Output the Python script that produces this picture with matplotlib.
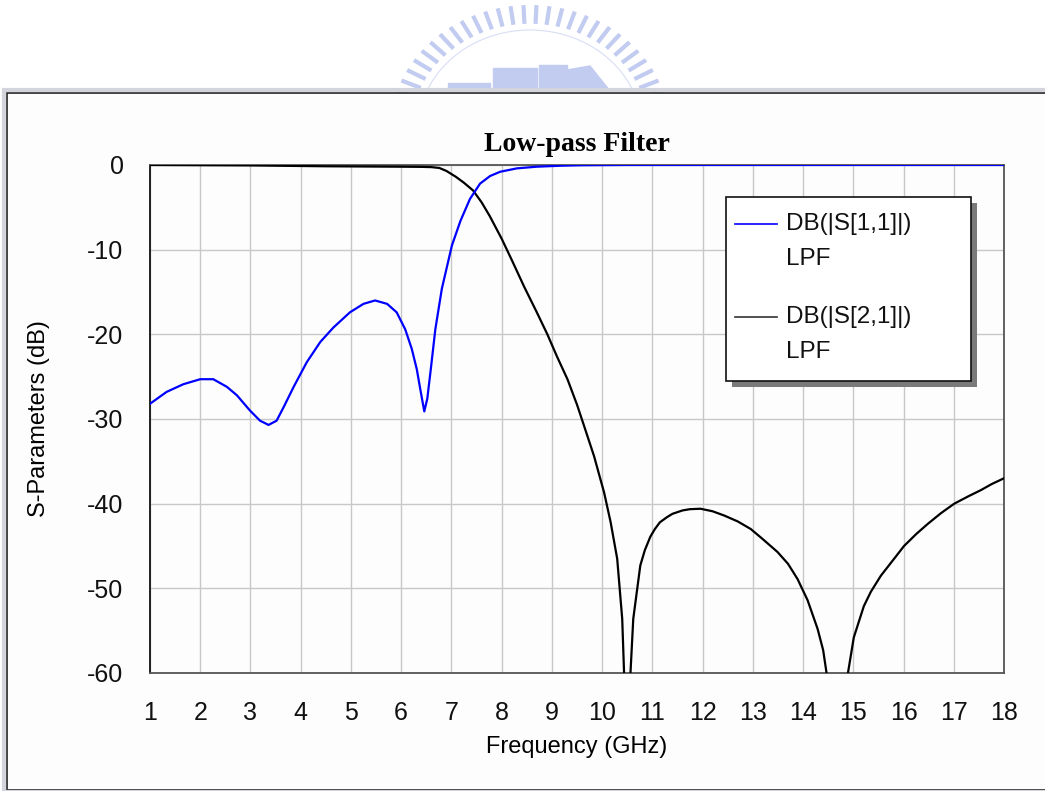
import matplotlib
matplotlib.use("Agg")
import matplotlib.pyplot as plt
import numpy as np
from matplotlib.lines import Line2D
from matplotlib.patches import Rectangle, Polygon, Arc

# --- data ---
s11_freq = [1.0, 1.33, 1.66, 2.0, 2.26, 2.53, 2.73, 2.99, 3.19, 3.36, 3.52, 3.66,
            3.86, 4.12, 4.39, 4.65, 4.98, 5.25, 5.48, 5.72, 5.91, 6.08, 6.21, 6.31,
            6.39, 6.46, 6.52, 6.59, 6.68, 6.81, 7.01, 7.18, 7.37, 7.57, 7.77, 7.97,
            8.3, 8.7, 9.2, 9.6, 10.5, 18.0]
s11_db = [-28.2, -26.8, -25.9, -25.3, -25.3, -26.2, -27.2, -29.0, -30.2, -30.7,
          -30.2, -28.6, -26.2, -23.3, -20.9, -19.2, -17.4, -16.4, -16.0, -16.4,
          -17.4, -19.4, -21.7, -24.1, -26.8, -29.1, -27.6, -24.1, -19.4, -14.6,
          -9.5, -6.6, -4.0, -2.2, -1.3, -0.8, -0.4, -0.2, -0.08, -0.03, 0.0, 0.0]

s21_freq = [1.0, 3.0, 4.5, 6.0, 6.4, 6.6, 6.76, 6.9, 7.09, 7.25, 7.43, 7.6, 7.76,
            8.0, 8.2, 8.45, 8.7, 8.91, 9.1, 9.31, 9.5, 9.64, 9.84, 10.04, 10.17,
            10.3, 10.4, 10.44, 10.5, 10.56, 10.62, 10.76, 10.85, 10.96, 11.05,
            11.15, 11.29, 11.4, 11.6, 11.75, 11.96, 12.2, 12.43, 12.7, 12.96, 13.2,
            13.49, 13.7, 13.89, 14.09, 14.29, 14.4, 14.48, 14.68, 14.88, 15.01,
            15.21, 15.35, 15.55, 15.8, 16.01, 16.25, 16.48, 16.75, 17.01, 17.3,
            17.54, 17.75, 18.0]
s21_db = [0.0, -0.05, -0.15, -0.2, -0.22, -0.25, -0.35, -0.7, -1.4, -2.1, -3.0,
          -4.4, -6.0, -8.7, -11.2, -14.4, -17.4, -20.0, -22.6, -25.3, -28.3, -30.8,
          -34.4, -38.7, -42.2, -46.5, -53.6, -60.5, -75.0, -60.5, -53.6, -47.3,
          -45.5, -43.9, -43.0, -42.2, -41.6, -41.2, -40.8, -40.65, -40.6, -40.9,
          -41.4, -42.1, -43.0, -44.2, -45.7, -47.1, -48.9, -51.4, -54.8, -57.3,
          -60.5, -75.0, -60.5, -55.8, -52.1, -50.4, -48.5, -46.6, -45.0, -43.6,
          -42.4, -41.1, -40.0, -39.1, -38.4, -37.7, -37.0]

x_ticks = list(range(1, 19))
y_ticks = [0, -10, -20, -30, -40, -50, -60]
legend_labels = ["DB(|S[1,1]|)", "LPF", "DB(|S[2,1]|)", "LPF"]

W, H = 1045, 791
plt.rcParams["font.family"] = ["Liberation Sans", "DejaVu Sans"]
plt.rcParams["axes.unicode_minus"] = False


def px(x, y):
    return x / W, 1 - y / H


fig = plt.figure(figsize=(W / 100, H / 100), dpi=100)
fig.patch.set_facecolor("white")

# faint logo watermark at top (sits behind the window frame)
wm = "#c2cbf0"
cx, cy, a, b = 530, 130, 140, 125
for ang in np.linspace(np.radians(162), np.radians(18), 28):
    x0, y0 = cx + a * np.cos(ang), cy - b * np.sin(ang)
    x1, y1 = cx + 0.85 * a * np.cos(ang), cy - 0.85 * b * np.sin(ang)
    fig.add_artist(Line2D([x0 / W, x1 / W], [1 - y0 / H, 1 - y1 / H],
                          color=wm, lw=3.0, solid_capstyle="butt", zorder=-2))
fig.add_artist(Arc(px(cx, cy), 2 * 0.8 * a / W, 2 * 0.8 * b / H, theta1=20,
                   theta2=160, ec="#d8def5", lw=0.8, zorder=-2))
fig.add_artist(Rectangle(px(448, 89), 42 / W, 6 / H, color=wm, zorder=-2))
fig.add_artist(Rectangle(px(493, 91), 44 / W, 23 / H, color=wm, zorder=-2))
fig.add_artist(Rectangle(px(539, 91), 28 / W, 26 / H, color=wm, zorder=-2))
fig.add_artist(Polygon([px(567, 91), px(610, 91), px(590, 66), px(567, 70)],
                       closed=True, color=wm, zorder=-2))

# window frame
fig.add_artist(Rectangle(px(7, 790), (W + 10) / W, 697 / H, fill=True,
                         fc="#fdfdfd", ec="#222222", lw=1.2, zorder=-1))
fig.add_artist(Rectangle(px(4, 792), (W + 10) / W, 702 / H, fill=False,
                         ec="#d4d4dc", lw=3, zorder=-1))

ax = fig.add_axes([150 / W, 1 - 673 / H, 854 / W, 508 / H])
ax.set_facecolor("#fdfdfd")
ax.plot(s21_freq, s21_db, color="black", lw=1.6, zorder=3)
ax.plot(s11_freq, s11_db, color="#0000ff", lw=1.6, zorder=4)

ax.set_xlim(1, 18)
ax.set_ylim(-60, 0)
ax.set_xticks(x_ticks)
ax.set_yticks(y_ticks)
ax.grid(True, color="#c8c8c8", lw=1.0)
ax.set_axisbelow(True)
ax.tick_params(length=0, labelsize=18, pad=19, colors="#111111")
ax.tick_params(axis="x", pad=20)
for side, sp in ax.spines.items():
    sp.set_color("#555555" if side != "left" else "#111111")
    sp.set_linewidth(1.3)

ax.set_title("Low-pass Filter", family="Liberation Serif", weight="bold",
             fontsize=20, pad=10)
ax.set_xlabel("Frequency (GHz)", fontsize=17)
ax.set_ylabel("S-Parameters (dB)", fontsize=17)
ax.xaxis.set_label_coords(0.5, -0.125)
ax.yaxis.set_label_coords(-0.117, 0.5)

# legend box with drop shadow
lx0, ly0, lx1, ly1 = 726, 197, 971, 381
ax.add_artist(Rectangle(px(lx0 + 6, ly1 + 6), (lx1 - lx0) / W, (ly1 - ly0) / H,
                        transform=fig.transFigure, fc="#7a7a7a", ec="none", zorder=6))
ax.add_artist(Rectangle(px(lx0, ly1), (lx1 - lx0) / W, (ly1 - ly0) / H,
                        transform=fig.transFigure, fc="white", ec="#111111",
                        lw=1.2, zorder=7))
for col, yl in [("#0000ff", 224), ("#333333", 317)]:
    ax.add_artist(Line2D([735 / W, 777 / W], [1 - yl / H] * 2, color=col, lw=1.2,
                         transform=fig.transFigure, zorder=8))
for lab, yl in zip(legend_labels, [224, 259, 317, 352]):
    fig.text(786 / W, 1 - yl / H, lab, fontsize=17.5, va="center", ha="left",
             color="#111111", zorder=9)

fig.savefig("out.png", dpi=100, facecolor="white")
